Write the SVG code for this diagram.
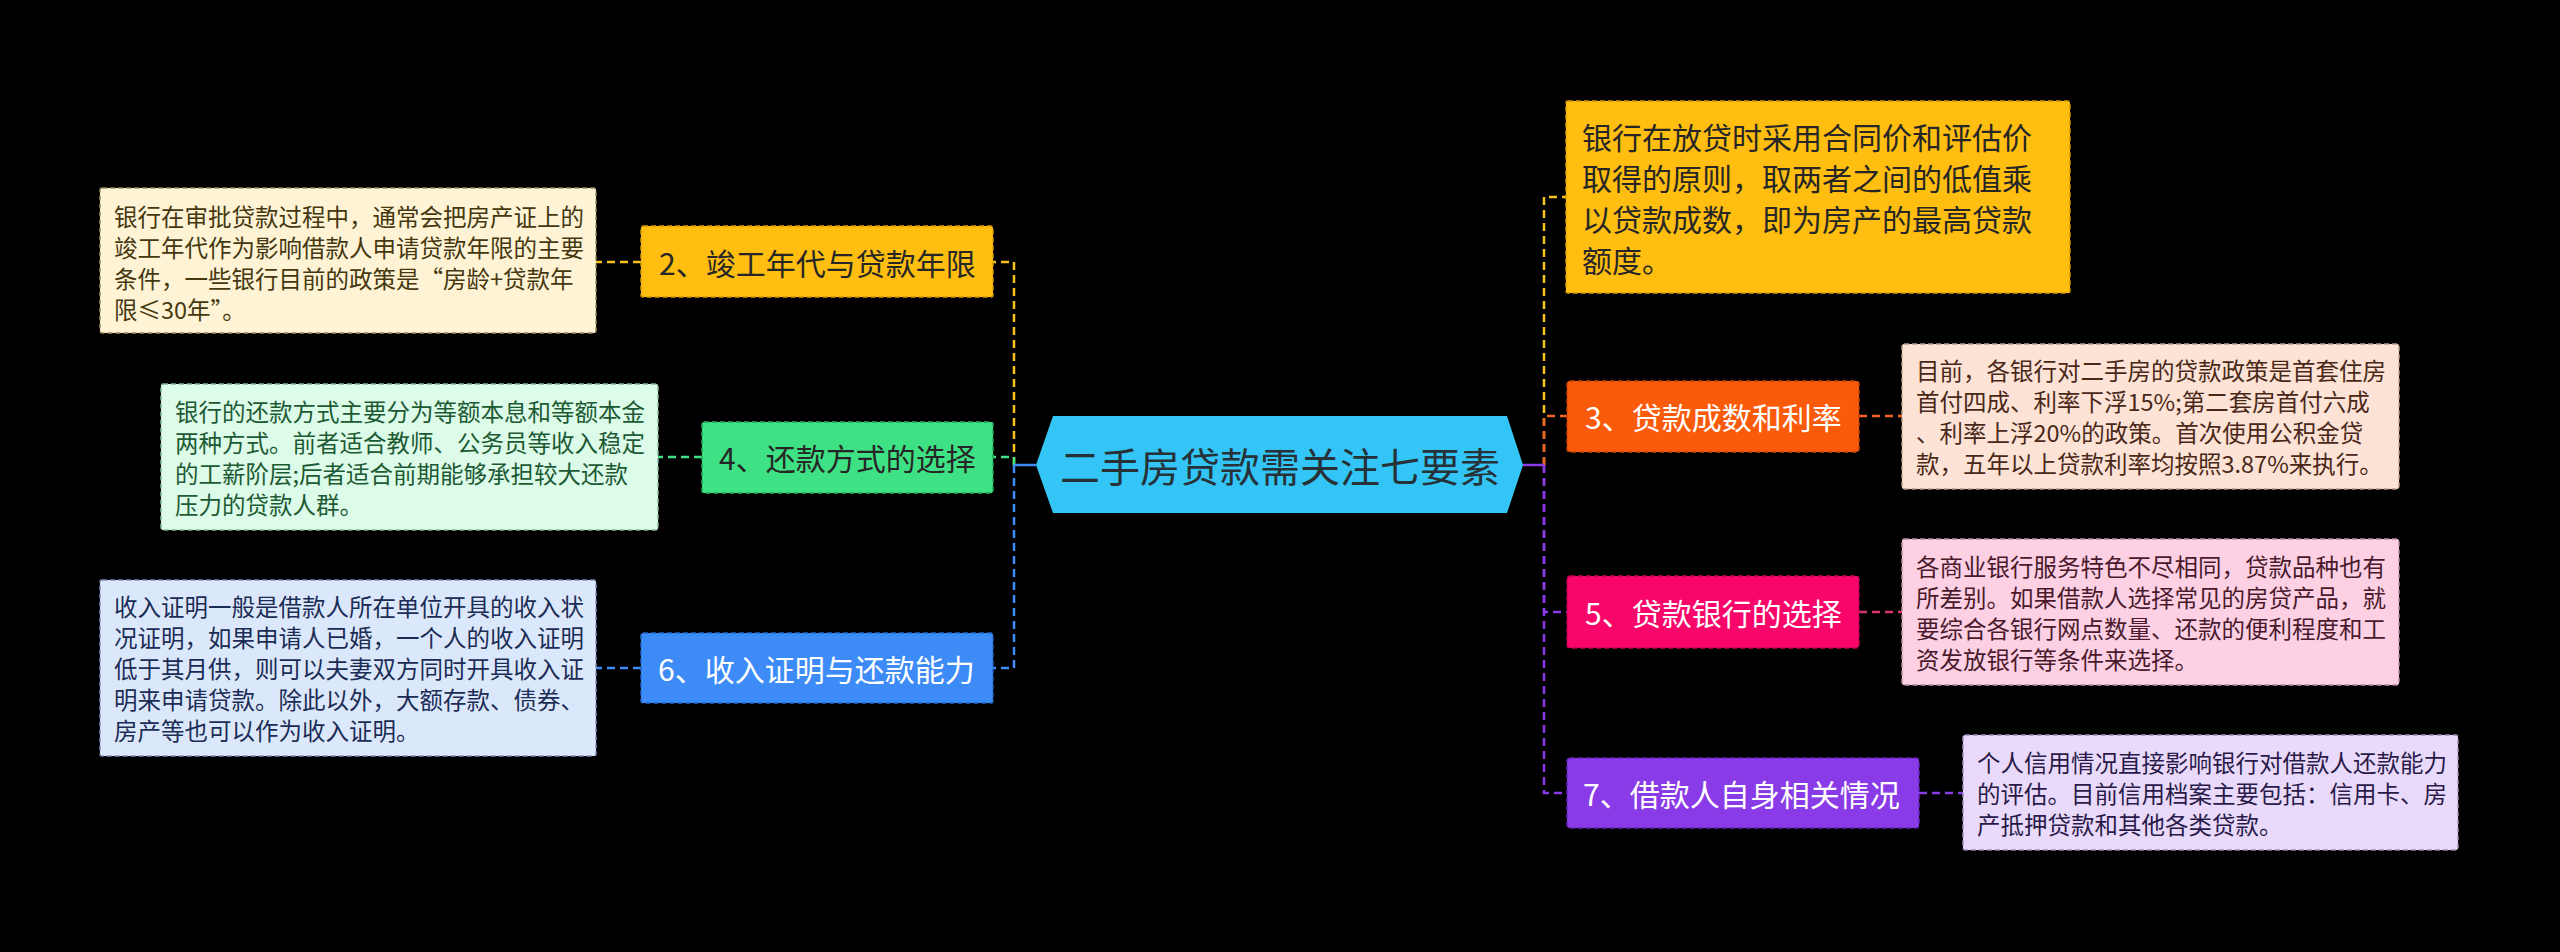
<svg xmlns="http://www.w3.org/2000/svg" width="2560" height="952" viewBox="0 0 2560 952">
<style>
text{font-family:"Noto Sans CJK SC","Noto Sans",sans-serif;dominant-baseline:central}
.d{font-size:23.5px}
.b{font-size:30px}
.w{fill:#ffffff}
.k{fill:#262626}
.box{stroke-width:1.5;stroke-dasharray:5 3}
.c{fill:none;stroke-width:2.5;stroke-dasharray:8 5}
.s{fill:none;stroke-width:2.5}
</style>
<rect width="2560" height="952" fill="#000000"/>
<g id="connectors">
<path class="c" stroke="#F7C21C" d="M1014 465 V262 H993"/>
<path class="c" stroke="#F7C21C" d="M641 262 H596"/>
<path class="c" stroke="#3EE183" d="M1014 465 V457 H993"/>
<path class="c" stroke="#3EE183" d="M702 457 H658"/>
<path class="c" stroke="#3D8BF7" d="M1014 465 V668 H993"/>
<path class="c" stroke="#3D8BF7" d="M641 668 H596"/>
<path class="s" stroke="#3D8BF7" d="M1036 465 H1014"/>
<path class="c" stroke="#F7C21C" d="M1544 465 V197 H1566"/>
<path class="c" stroke="#F06424" d="M1544 465 V416 H1567"/>
<path class="c" stroke="#F06424" d="M1859 416 H1902"/>
<path class="c" stroke="#8A3BE8" d="M1544 465 V612 H1567"/>
<path class="c" stroke="#D8336E" d="M1859 612 H1902"/>
<path class="c" stroke="#8A3BE8" d="M1544 465 V793 H1567"/>
<path class="c" stroke="#8A3BE8" d="M1919 793 H1963"/>
<path class="s" stroke="#8A3BE8" d="M1523 465 H1544"/>
</g>
<g id="root">
<polygon points="1036,465 1053,416 1507,416 1523,465 1507,513 1053,513" fill="#33C5F5"/>
<text x="1280" y="465" font-size="40" text-anchor="middle" fill="#263238">二手房贷款需关注七要素</text>
</g>
<g id="n2">
<rect class="box" x="641" y="226" width="352" height="71" rx="2" fill="#FFBE10" stroke="#D39A00"/>
<text class="b k" x="659" y="262">2、竣工年代与贷款年限</text>
</g>
<g id="n2d">
<rect class="box" x="100" y="188" width="496" height="145" rx="2" fill="#FFF3D6" stroke="#9C8A5C"/>
<g class="d" fill="#45380F">
<text x="114" y="216">银行在审批贷款过程中，通常会把房产证上的</text>
<text x="114" y="247">竣工年代作为影响借款人申请贷款年限的主要</text>
<text x="114" y="278">条件，一些银行目前的政策是“房龄+贷款年</text>
<text x="114" y="309">限≤30年”。</text>
</g>
</g>
<g id="n4">
<rect class="box" x="702" y="422" width="291" height="71" rx="2" fill="#3EE183" stroke="#22A85A"/>
<text class="b k" x="719" y="457">4、还款方式的选择</text>
</g>
<g id="n4d">
<rect class="box" x="161" y="384" width="497" height="146" rx="2" fill="#DCFBE9" stroke="#7FB596"/>
<g class="d" fill="#1C5A33">
<text x="175" y="411">银行的还款方式主要分为等额本息和等额本金</text>
<text x="175" y="442">两种方式。前者适合教师、公务员等收入稳定</text>
<text x="175" y="473">的工薪阶层;后者适合前期能够承担较大还款</text>
<text x="175" y="504">压力的贷款人群。</text>
</g>
</g>
<g id="n6">
<rect class="box" x="641" y="633" width="352" height="70" rx="2" fill="#3D8BF7" stroke="#2466C8"/>
<text class="b w" x="658" y="668">6、收入证明与还款能力</text>
</g>
<g id="n6d">
<rect class="box" x="100" y="580" width="496" height="176" rx="2" fill="#DBE8FC" stroke="#7E93B8"/>
<g class="d" fill="#1B2C55">
<text x="114" y="606">收入证明一般是借款人所在单位开具的收入状</text>
<text x="114" y="637">况证明，如果申请人已婚，一个人的收入证明</text>
<text x="114" y="668">低于其月供，则可以夫妻双方同时开具收入证</text>
<text x="114" y="699">明来申请贷款。除此以外，大额存款、债券、</text>
<text x="114" y="730">房产等也可以作为收入证明。</text>
</g>
</g>
<g id="n1">
<rect class="box" x="1566" y="101" width="504" height="192" rx="2" fill="#FFBE10" stroke="#D39A00"/>
<g class="b k">
<text x="1582" y="136">银行在放贷时采用合同价和评估价</text>
<text x="1582" y="177">取得的原则，取两者之间的低值乘</text>
<text x="1582" y="218">以贷款成数，即为房产的最高贷款</text>
<text x="1582" y="259">额度。</text>
</g>
</g>
<g id="n3">
<rect class="box" x="1567" y="381" width="292" height="71" rx="3" fill="#FA5B0A" stroke="#C84300"/>
<text class="b w" x="1585" y="416">3、贷款成数和利率</text>
</g>
<g id="n3d">
<rect class="box" x="1902" y="344" width="497" height="145" rx="2" fill="#FDE3D6" stroke="#B89A8A"/>
<g class="d" fill="#4A2818">
<text x="1916" y="370">目前，各银行对二手房的贷款政策是首套住房</text>
<text x="1916" y="401">首付四成、利率下浮15%;第二套房首付六成</text>
<text x="1916" y="432">、利率上浮20%的政策。首次使用公积金贷</text>
<text x="1916" y="463">款，五年以上贷款利率均按照3.87%来执行。</text>
</g>
</g>
<g id="n5">
<rect class="box" x="1567" y="576" width="292" height="72" rx="3" fill="#F8066A" stroke="#C0004E"/>
<text class="b w" x="1585" y="612">5、贷款银行的选择</text>
</g>
<g id="n5d">
<rect class="box" x="1902" y="539" width="497" height="146" rx="2" fill="#FDD0E4" stroke="#B88A9E"/>
<g class="d" fill="#4A1A2C">
<text x="1916" y="566">各商业银行服务特色不尽相同，贷款品种也有</text>
<text x="1916" y="597">所差别。如果借款人选择常见的房贷产品，就</text>
<text x="1916" y="628">要综合各银行网点数量、还款的便利程度和工</text>
<text x="1916" y="659">资发放银行等条件来选择。</text>
</g>
</g>
<g id="n7">
<rect class="box" x="1567" y="758" width="352" height="70" rx="3" fill="#8A3BE8" stroke="#6524B8"/>
<text class="b w" x="1583" y="793">7、借款人自身相关情况</text>
</g>
<g id="n7d">
<rect class="box" x="1963" y="735" width="495" height="115" rx="2" fill="#E9DAFB" stroke="#9C8AB8"/>
<g class="d" fill="#2A1A4A">
<text x="1977" y="762">个人信用情况直接影响银行对借款人还款能力</text>
<text x="1977" y="793">的评估。目前信用档案主要包括：信用卡、房</text>
<text x="1977" y="824">产抵押贷款和其他各类贷款。</text>
</g>
</g>
</svg>
